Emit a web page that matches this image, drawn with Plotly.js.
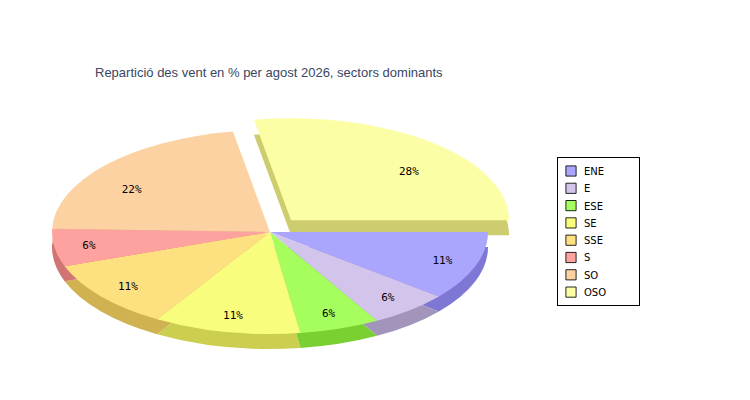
<!DOCTYPE html>
<html>
<head>
<meta charset="utf-8">
<script src="https://cdn.plot.ly/plotly-3.0.1.min.js"></script>
<style>
  html, body { margin: 0; padding: 0; background: #fff; }
  #chart { width: 750px; height: 400px; }
</style>
</head>
<body>
<div id="chart"></div>
<script>
// sectors and share of wind (%)
var sectors = ['ENE', 'E', 'ESE', 'SE', 'SSE', 'S', 'SO', 'OSO'];
var shares = [11, 6, 6, 11, 11, 6, 22, 28];
var topColors = ['#aaa6fe', '#d2c4ea', '#a6fe5e', '#f9fd7e', '#fde080', '#fea2a0', '#fdd2a2', '#fbfea4'];
var sideColors = ['#7f77d4', '#a394bc', '#7ad030', '#ccce50', '#d0b252', '#d07474', '#d0a070', '#cdcd70'];
var pulls = [0, 0, 0, 0, 0, 0, 0, 0.15];

var W = 750, H = 400;
var cx = 270, cy = 232, ry = 102, rx = 218, depth = 15;
var stretch = rx / ry;
var labelRadius = 0.84;
var maxPull = Math.max.apply(null, pulls);
var half = ry * (1 + maxPull);

function domainFor(dy) {
  return {
    x: [(cx - half) / W, (cx + half) / W],
    y: [1 - (cy + dy + half) / H, 1 - (cy + dy - half) / H]
  };
}

var sideTrace = {
  type: 'pie',
  labels: sectors,
  values: shares,
  sort: false,
  direction: 'clockwise',
  rotation: 90,
  pull: pulls,
  domain: domainFor(depth),
  marker: {colors: sideColors, line: {width: 0}},
  textinfo: 'none',
  showlegend: false,
  hoverinfo: 'skip'
};

var topTrace = {
  type: 'pie',
  labels: sectors,
  values: shares,
  sort: false,
  direction: 'clockwise',
  rotation: 90,
  pull: pulls,
  domain: domainFor(0),
  marker: {colors: topColors, line: {width: 0}},
  texttemplate: '%{value}%',
  textposition: 'inside',
  insidetextorientation: 'horizontal',
  textfont: {family: 'DejaVu Sans Mono, monospace', size: 11, color: '#000'},
  hoverinfo: 'skip'
};

var layout = {
  width: W,
  height: H,
  margin: {l: 0, r: 0, t: 0, b: 0},
  paper_bgcolor: '#fff',
  title: {
    text: 'Repartició des vent en % per agost 2026, sectors dominants',
    font: {family: 'Liberation Sans, Arial, sans-serif', size: 13, color: '#3a4662'},
    x: 95 / W, xanchor: 'left',
    y: 1 - 72 / H, yanchor: 'middle', yref: 'container'
  },
  showlegend: true,
  legend: {
    x: 557 / W, xanchor: 'left',
    y: 1 - 157 / H, yanchor: 'top',
    bgcolor: '#fff',
    bordercolor: '#000',
    borderwidth: 1,
    itemwidth: 30,
    font: {family: 'DejaVu Sans, sans-serif', size: 10, color: '#000'},
    traceorder: 'normal'
  }
};

var gd = document.getElementById('chart');
Plotly.newPlot(gd, [sideTrace, topTrace], layout, {staticPlot: true}).then(function () {
  // flatten the circular pies into ellipses (3D look) around their centre
  var traces = gd.querySelectorAll('.pielayer .trace');
  traces.forEach(function (tr, i) {
    var cd = gd.calcdata[i];
    var c = cd[0].cx, r = cd[0].r;
    tr.querySelectorAll('path.surface').forEach(function (p) {
      p.setAttribute('transform', 'translate(' + c + ',0) scale(' + stretch + ',1) translate(' + (-c) + ',0)');
    });
    tr.querySelectorAll('g.slice').forEach(function (s, j) {
      var t = s.querySelector('g.slicetext text');
      if (!t) return;
      var pt = cd[j];
      var m = pt.pxmid;
      var len = Math.sqrt(m[0] * m[0] + m[1] * m[1]);
      var ux = m[0] / len, uy = m[1] / len;
      if (uy < 0) uy *= 0.75; // labels on the back half sit lower, as in the 3D view
      var px = pt.cxFinal + ux * r * labelRadius;
      var py = pt.cyFinal + uy * r * labelRadius;
      var X = c + (px - c) * stretch, Y = py;
      var b = t.getBoundingClientRect();
      var dx = X - (b.left + b.width / 2), dy = Y - (b.top + b.height / 2);
      t.setAttribute('transform', 'translate(' + dx + ',' + dy + ') ' + (t.getAttribute('transform') || ''));
    });
  });
  // tighter legend rows with small outlined swatches
  var items = gd.querySelectorAll('.legend .traces');
  items.forEach(function (it, k) {
    it.setAttribute('transform', 'translate(1,' + (14 + k * 17.3) + ')');
    var p = it.querySelector('.legendpoints path');
    if (p) {
      p.style.stroke = '#000';
      p.style.strokeWidth = '1px';
      p.setAttribute('transform', 'translate(13,0) scale(0.85)');
    }
    var txt = it.querySelector('text.legendtext');
    if (txt) txt.setAttribute('x', 26);
  });
  var bg = gd.querySelector('.legend rect.bg');
  if (bg) {
    bg.setAttribute('height', 148);
    bg.setAttribute('width', 82);
  }
});
</script>
</body>
</html>
